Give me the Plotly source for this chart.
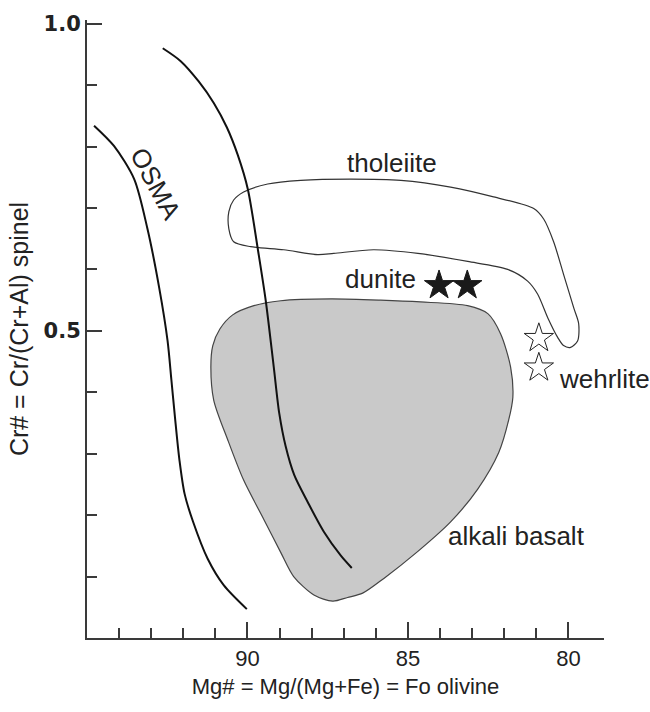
import plotly.graph_objects as go

# ---------------- data ----------------
# OSMA boundary line (Mg# of olivine, Cr# of spinel)
osma_mg = [94.78, 94.16, 93.53, 93.12, 92.75, 92.49, 92.37, 92.26, 92.12, 91.96, 91.70, 91.24, 90.74, 90.02]
osma_cr = [0.834, 0.801, 0.747, 0.667, 0.570, 0.484, 0.420, 0.360, 0.290, 0.235, 0.190, 0.129, 0.086, 0.047]

# second boundary line
line2_mg = [92.64, 92.08, 91.52, 91.05, 90.64, 90.30, 89.99, 89.68, 89.43, 89.18, 89.01, 88.81, 88.54, 88.12, 87.62, 87.09, 86.75]
line2_cr = [0.960, 0.939, 0.906, 0.871, 0.831, 0.786, 0.731, 0.634, 0.549, 0.441, 0.366, 0.312, 0.265, 0.221, 0.173, 0.134, 0.114]

# tholeiite field outline
thol_mg = [90.58, 90.43, 90.12, 89.37, 88.34, 86.78, 85.22, 83.67, 82.33, 81.08, 80.77, 80.46, 80.15, 79.83,
           79.68, 79.71, 79.93, 80.15, 80.33, 80.64, 80.96, 81.27, 81.89, 83.14, 84.69, 86.07, 87.31, 87.81,
           88.87, 89.90, 90.43, 90.58, 90.58]
thol_cr = [0.694, 0.713, 0.726, 0.739, 0.745, 0.747, 0.745, 0.734, 0.718, 0.699, 0.682, 0.645, 0.592, 0.537,
           0.512, 0.484, 0.473, 0.476, 0.489, 0.521, 0.560, 0.581, 0.600, 0.613, 0.626, 0.632, 0.626, 0.624,
           0.632, 0.637, 0.645, 0.666, 0.694]

# alkali basalt field outline
alk_mg = [91.14, 91.08, 90.86, 90.46, 89.80, 88.96, 87.40, 85.85, 84.60, 83.14, 82.51, 82.11, 81.80, 81.73,
          81.86, 82.17, 82.83, 83.67, 84.69, 85.75, 86.41, 86.88, 87.34, 87.93, 88.56, 88.96, 89.49, 90.12,
          90.61, 91.05, 91.14]
alk_cr = [0.442, 0.476, 0.503, 0.526, 0.541, 0.549, 0.552, 0.550, 0.547, 0.541, 0.528, 0.495, 0.441, 0.392,
          0.355, 0.302, 0.242, 0.189, 0.141, 0.097, 0.073, 0.066, 0.060, 0.070, 0.100, 0.139, 0.193, 0.257,
          0.322, 0.387, 0.442]

# samples
dunite_mg = [84.03, 83.15]
dunite_cr = [0.574, 0.574]
wehrlite_mg = [80.92, 80.92]
wehrlite_cr = [0.488, 0.440]

# field labels
label_text = ["tholeiite", "dunite", "wehrlite", "alkali basalt"]
label_mg = [85.50, 85.86, 78.89, 81.61]
label_cr = [0.774, 0.585, 0.421, 0.166]
osma_label = "OSMA"
osma_label_mg = 92.86
osma_label_cr = 0.739

# axes ticks
x_major = [90, 85, 80]
x_minor = [94, 93, 92, 91, 89, 88, 87, 86, 84, 83, 82, 81]
y_major = [0.5, 1.0]
y_major_text = ["0.5", "1.0"]
y_minor = [0.1, 0.2, 0.3, 0.4, 0.6, 0.7, 0.8, 0.9]

x_title = "Mg# = Mg/(Mg+Fe) = Fo olivine"
y_title = "Cr# = Cr/(Cr+Al) spinel"

# ---------------- figure ----------------
INK = "#222222"
AX = "#3a3a3a"

fig = go.Figure()

fig.add_trace(go.Scatter(
    x=alk_mg, y=alk_cr, mode="lines", fill="toself", fillcolor="#c9c9c9",
    line=dict(color="#444444", width=1.2, shape="spline", smoothing=0.8),
    hoverinfo="skip"))

fig.add_trace(go.Scatter(
    x=thol_mg, y=thol_cr, mode="lines",
    line=dict(color="#333333", width=1.2, shape="spline", smoothing=0.8),
    hoverinfo="skip"))

fig.add_trace(go.Scatter(
    x=osma_mg, y=osma_cr, mode="lines",
    line=dict(color="#111111", width=2, shape="spline", smoothing=0.8)))

fig.add_trace(go.Scatter(
    x=line2_mg, y=line2_cr, mode="lines",
    line=dict(color="#111111", width=2, shape="spline", smoothing=0.8)))

fig.add_trace(go.Scatter(
    x=dunite_mg, y=dunite_cr, mode="markers",
    marker=dict(symbol="star", size=22, color="#1a1a1a", line=dict(color="#1a1a1a", width=1))))

fig.add_trace(go.Scatter(
    x=wehrlite_mg, y=wehrlite_cr, mode="markers",
    marker=dict(symbol="star", size=22, color="white", line=dict(color="#222222", width=1))))

for t, xm, yc in zip(label_text, label_mg, label_cr):
    fig.add_annotation(x=xm, y=yc, text=t, showarrow=False, xanchor="center", yanchor="middle",
                       font=dict(size=26, color=INK))

fig.add_annotation(x=osma_label_mg, y=osma_label_cr, text=osma_label, showarrow=False,
                   textangle=62, xanchor="center", yanchor="middle",
                   font=dict(size=26, color=INK))

fig.update_layout(
    width=650, height=712,
    margin=dict(l=87, r=46, t=16, b=74),
    plot_bgcolor="white", paper_bgcolor="white",
    showlegend=False,
    font=dict(family="Liberation Sans, Arial, sans-serif", color=INK),
)

fig.update_xaxes(
    range=[95, 78.89], showgrid=False, zeroline=False,
    showline=True, linecolor=AX, linewidth=2,
    tickmode="array", tickvals=x_major, ticktext=[str(v) for v in x_major],
    ticks="inside", ticklen=16, tickwidth=1.6, tickcolor=AX,
    tickfont=dict(size=22, color=INK),
    minor=dict(tickmode="array", tickvals=x_minor, ticks="inside", ticklen=10,
               tickwidth=1.6, tickcolor=AX, showgrid=False),
    title=dict(text=x_title, font=dict(size=22, color=INK), standoff=8),
)

fig.update_yaxes(
    range=[0, 1.006], showgrid=False, zeroline=False,
    showline=True, linecolor=AX, linewidth=2,
    tickmode="array", tickvals=y_major, ticktext=y_major_text,
    ticks="inside", ticklen=15, tickwidth=1.6, tickcolor=AX,
    tickfont=dict(size=21, color=INK, family="DejaVu Sans", weight="bold"),
    minor=dict(tickmode="array", tickvals=y_minor, ticks="inside", ticklen=10,
               tickwidth=1.6, tickcolor=AX, showgrid=False),
    title=dict(text=y_title, font=dict(size=25, color=INK), standoff=8),
)

fig.write_html("out.html")
